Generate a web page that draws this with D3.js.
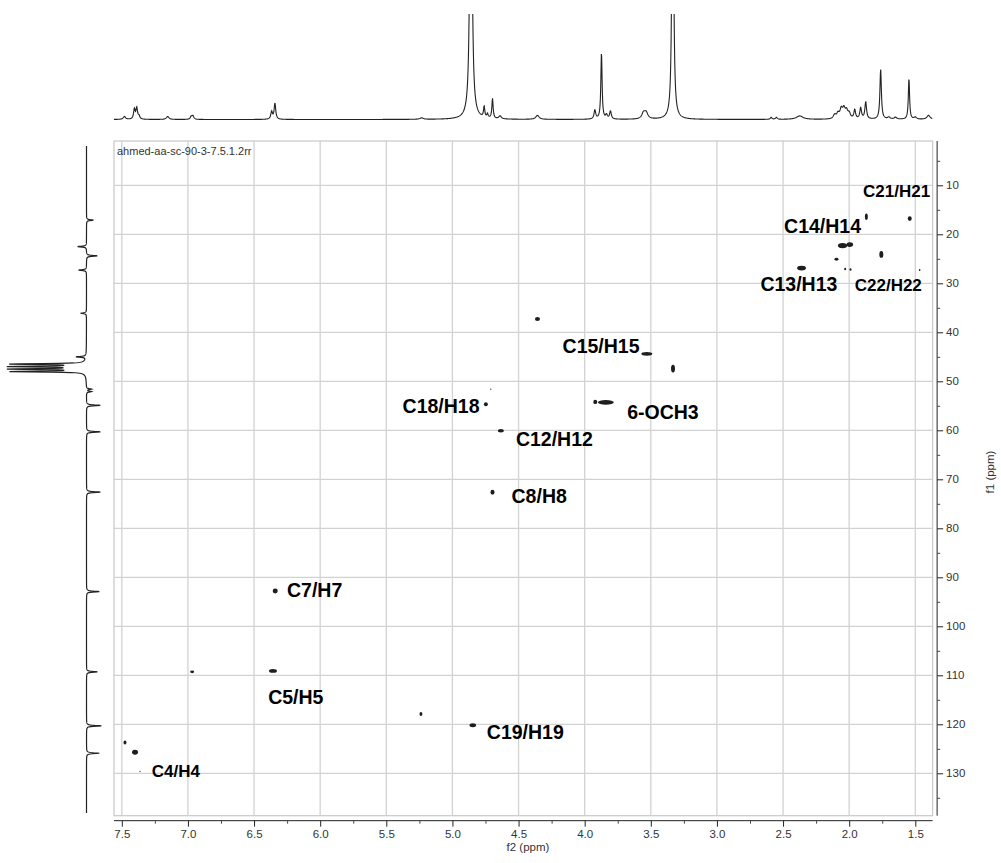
<!DOCTYPE html>
<html>
  <head>
    <meta charset="utf-8">
    <title>HSQC</title>
    <script src="https://d3js.org/d3.v7.min.js"></script>
    <style>
      body { margin: 0; background: #fff; }
      svg { font-family: "Liberation Sans", Arial, sans-serif; }
    </style>
  </head>
  <body>
    <div id="chart"></div>
    <script>

      // 1H projection (top): ppm, intensity, linewidth (ppm)
      const hShift = [7.48, 7.405, 7.387, 7.37, 7.153, 6.975, 6.962, 6.367, 6.342, 5.233,
        4.86, 4.76, 4.735, 4.697, 4.64, 4.357, 3.923, 3.873, 3.835, 3.805, 3.555, 3.535,
        3.334, 2.59, 2.55, 2.374, 2.11, 2.085, 2.06, 2.04, 2.02, 2.0, 1.958, 1.913, 1.875,
        1.762, 1.70, 1.65, 1.548, 1.50, 1.40];
      const hHeight = [3, 10, 11, 3, 3, 3, 3.5, 7.5, 16, 1.5,
        420, 11, 4, 20, 3, 4, 9, 67, 4, 8, 6, 6,
        420, 2, 2, 3.5, 4, 5, 9, 9, 7, 5, 9, 11, 17,
        50, 2, 2, 41, 2, 4];
      const hWidth = [0.02, 0.014, 0.014, 0.015, 0.023, 0.015, 0.015, 0.015, 0.014, 0.03,
        0.016, 0.011, 0.011, 0.011, 0.023, 0.03, 0.015, 0.011, 0.015, 0.015, 0.03, 0.03,
        0.012, 0.015, 0.015, 0.06, 0.023, 0.023, 0.023, 0.023, 0.023, 0.023, 0.015, 0.015, 0.015,
        0.013, 0.023, 0.023, 0.011, 0.023, 0.03];

      // 13C projection (left): ppm, intensity (negative = to the left), linewidth (ppm)
      const cShift = [17.1, 22.5, 24.4, 27.3, 36.1, 45.0, 46.5, 47.0, 47.5, 48.0,
        51.6, 52.1, 54.9, 60.3, 72.6, 92.9, 109.3, 120.3, 125.9];
      const cHeight = [7, -9, 11, -8, -6, -10, -74, -74, -74, -74,
        5, 5, 14, 14, 14, 13, 11, 15, 13];
      const cWidth = 0.2;

      // HSQC cross peaks: 1H ppm, 13C ppm, 1H width, 13C width
      const peakH = [1.542, 1.87, 2.05, 1.995, 1.757, 2.096, 2.03, 1.99, 2.36, 1.467,
        4.357, 3.53, 3.332, 4.747, 4.71, 3.92, 3.84, 4.634, 4.697, 6.34,
        6.968, 6.357, 4.846, 5.238, 7.40, 7.476, 7.362];
      const peakC = [16.8, 16.4, 22.3, 22.1, 24.1, 25.1, 27.1, 27.2, 26.9, 27.3,
        37.3, 44.4, 47.4, 54.7, 51.6, 54.2, 54.3, 60.1, 72.65, 92.8,
        109.3, 109.1, 120.2, 117.9, 125.7, 123.7, 129.6];
      const peakWH = [0.03, 0.022, 0.07, 0.05, 0.03, 0.03, 0.015, 0.015, 0.068, 0.012,
        0.038, 0.083, 0.03, 0.03, 0.008, 0.03, 0.12, 0.045, 0.03, 0.038,
        0.03, 0.06, 0.05, 0.022, 0.045, 0.022, 0.01];
      const peakWC = [1.0, 1.3, 1.1, 1.0, 1.4, 0.6, 0.5, 0.5, 1.0, 0.4,
        0.8, 0.8, 1.6, 0.8, 0.25, 0.9, 1.0, 0.7, 1.0, 1.0,
        0.6, 0.8, 0.8, 0.8, 1.0, 0.8, 0.25];

      // assignment labels: text, 1H ppm (left edge), 13C ppm (baseline)
      const labelText = ["C21/H21", "C14/H14", "C13/H13", "C22/H22", "C15/H15", "C18/H18",
        "6-OCH3", "C12/H12", "C8/H8", "C7/H7", "C5/H5", "C19/H19", "C4/H4"];
      const labelH = [1.895, 2.492, 2.671, 1.958, 4.167, 5.377, 3.679, 4.520, 4.553, 6.251, 6.393, 4.740, 7.274];
      const labelC = [12.33, 19.67, 31.51, 31.51, 44.29, 56.41, 57.76, 63.2, 74.84, 94.0, 115.92, 123.0, 130.8];
      const smallLabels = ["C21/H21", "C22/H22", "C4/H4"];

      const xTicks = [7.5, 7.0, 6.5, 6.0, 5.5, 5.0, 4.5, 4.0, 3.5, 3.0, 2.5, 2.0, 1.5];
      const yTicks = [10, 20, 30, 40, 50, 60, 70, 80, 90, 100, 110, 120, 130];
      const title = "ahmed-aa-sc-90-3-7.5.1.2rr";

      const width = 1001, height = 863;
      const f2Limits = [7.559, 1.369];
      const f1Limits = [0.96, 138.65];

      const x = d3.scaleLinear().domain([7.5, 1.5]).range([121.8, 915.3]);
      const y = d3.scaleLinear().domain([10, 130]).range([185.3, 773.3]);

      const frameL = x(f2Limits[0]), frameR = x(f2Limits[1]);
      const frameT = y(f1Limits[0]), frameB = y(f1Limits[1]);

      const svg = d3.select("#chart").append("svg")
        .attr("width", width)
        .attr("height", height);

      // grid
      const grid = svg.append("g").attr("stroke", "#d2d2d2").attr("stroke-width", 1.3);
      grid.selectAll(".vx").data(xTicks).enter().append("line")
        .attr("x1", d => x(d)).attr("x2", d => x(d))
        .attr("y1", frameT).attr("y2", frameB);
      grid.selectAll(".hy").data(yTicks).enter().append("line")
        .attr("x1", frameL).attr("x2", frameR)
        .attr("y1", d => y(d)).attr("y2", d => y(d));
      svg.append("rect")
        .attr("x", frameL).attr("y", frameT)
        .attr("width", frameR - frameL).attr("height", frameB - frameT)
        .attr("fill", "none").attr("stroke", "#cccccc").attr("stroke-width", 1.3);

      svg.append("text")
        .attr("x", frameL + 3).attr("y", frameT + 14)
        .attr("font-size", 11).attr("fill", "#333")
        .text(title);

      // cross peaks
      svg.append("g").selectAll("ellipse")
        .data(peakH).enter().append("ellipse")
        .attr("cx", d => x(d))
        .attr("cy", (d, i) => y(peakC[i]))
        .attr("rx", (d, i) => Math.max(0.6, x(0) - x(peakWH[i] / 2)))
        .attr("ry", (d, i) => Math.max(0.6, y(peakC[i] + peakWC[i] / 2) - y(peakC[i])))
        .attr("fill", "#1e1e1e");

      // labels
      svg.append("g").selectAll("text")
        .data(labelText).enter().append("text")
        .attr("x", (d, i) => x(labelH[i]))
        .attr("y", (d, i) => y(labelC[i]))
        .attr("font-weight", "bold")
        .attr("font-size", d => smallLabels.includes(d) ? 17 : 19.5)
        .attr("fill", "#000")
        .text(d => d);

      // bottom axis
      const xAxisY = frameB + 5;
      svg.append("line")
        .attr("x1", frameL).attr("x2", frameR)
        .attr("y1", xAxisY).attr("y2", xAxisY)
        .attr("stroke", "#222");
      const xMinor = d3.range(7.25, 1.5, -0.5);
      svg.append("g")
        .attr("transform", `translate(0,${xAxisY})`)
        .call(d3.axisBottom(x).tickValues(xMinor).tickSize(3).tickFormat(""))
        .call(g => g.select(".domain").remove())
        .call(g => g.selectAll("line").attr("stroke", "#444"));
      svg.append("g")
        .attr("transform", `translate(0,${xAxisY})`)
        .call(d3.axisBottom(x).tickValues(xTicks).tickSize(6).tickPadding(3).tickFormat(d3.format(".1f")))
        .call(g => g.select(".domain").remove())
        .call(g => g.selectAll("line").attr("stroke", "#222"))
        .call(g => g.selectAll("text").attr("font-size", 11.5).attr("fill", "#333")
          .attr("font-family", "'Liberation Sans', Arial, sans-serif"));
      svg.append("text")
        .attr("x", 528).attr("y", 851)
        .attr("text-anchor", "middle")
        .attr("font-size", 11.5).attr("fill", "#333")
        .text("f2 (ppm)");

      // right axis
      const yAxisX = frameR + 4.5;
      svg.append("line")
        .attr("x1", yAxisX).attr("x2", yAxisX)
        .attr("y1", frameT).attr("y2", frameB)
        .attr("stroke", "#222");
      const yMinor = d3.range(5, 138, 10);
      svg.append("g")
        .attr("transform", `translate(${yAxisX},0)`)
        .call(d3.axisRight(y).tickValues(yMinor).tickSize(3).tickFormat(""))
        .call(g => g.select(".domain").remove())
        .call(g => g.selectAll("line").attr("stroke", "#444"));
      svg.append("g")
        .attr("transform", `translate(${yAxisX},0)`)
        .call(d3.axisRight(y).tickValues(yTicks).tickSize(6).tickPadding(3).tickFormat(d3.format("d")))
        .call(g => g.select(".domain").remove())
        .call(g => g.selectAll("line").attr("stroke", "#222"))
        .call(g => g.selectAll("text").attr("font-size", 11.5).attr("fill", "#333")
          .attr("font-family", "'Liberation Sans', Arial, sans-serif"));
      svg.append("text")
        .attr("transform", `translate(994,472) rotate(-90)`)
        .attr("text-anchor", "middle")
        .attr("font-size", 11.5).attr("fill", "#333")
        .text("f1 (ppm)");

      // 1H projection
      const lorentz = (p, shifts, heights, widths) => d3.sum(shifts, (s, i) => {
        const w = Array.isArray(widths) ? widths[i] : widths;
        const t = 2 * (p - s) / w;
        return heights[i] / (1 + t * t);
      });
      const hy = d3.scaleLinear().domain([0, 105.5]).range([119.5, 14]);
      const hPts = d3.range(f2Limits[0], f2Limits[1], -0.0025)
        .map(p => [x(p), hy(lorentz(p, hShift, hHeight, hWidth))]);
      svg.append("clipPath").attr("id", "topclip")
        .append("rect").attr("x", 0).attr("y", 14).attr("width", width).attr("height", 120);
      svg.append("path")
        .datum(hPts)
        .attr("clip-path", "url(#topclip)")
        .attr("d", d3.line())
        .attr("fill", "none")
        .attr("stroke", "#222")
        .attr("stroke-width", 1.1);

      // 13C projection
      const cx = d3.scaleLinear().domain([0, 10]).range([86.5, 96.5]);
      const cPts = d3.range(f1Limits[0] + 1, f1Limits[1] - 0.5, 0.05)
        .map(p => [cx(lorentz(p, cShift, cHeight, cWidth)), y(p)]);
      svg.append("path")
        .datum(cPts)
        .attr("d", d3.line())
        .attr("fill", "none")
        .attr("stroke", "#222")
        .attr("stroke-width", 1.2);

    </script>
  </body>
</html>
